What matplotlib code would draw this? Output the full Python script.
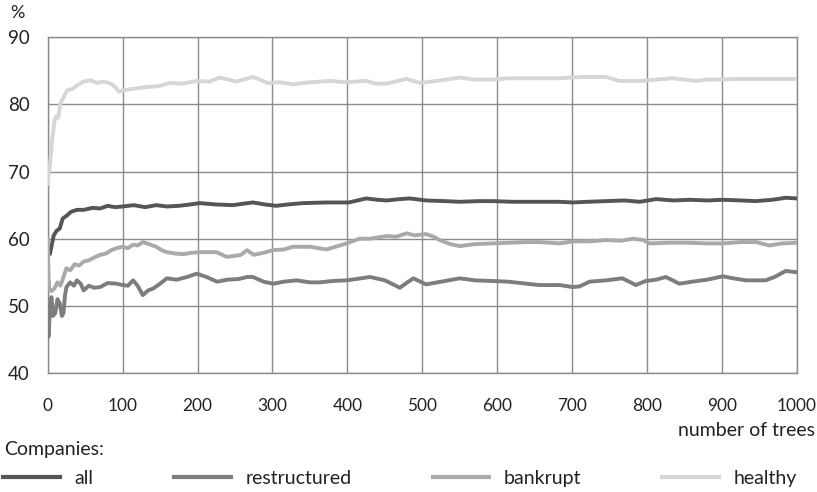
import matplotlib
matplotlib.use("Agg")
import matplotlib.pyplot as plt
from matplotlib.lines import Line2D

plt.rcParams["font.family"] = ["Lato", "DejaVu Sans"]

# --- data (accuracy in %, by number of trees) ---
t_all = [3, 5, 8, 12, 16, 20, 25, 31, 39, 48, 60, 70, 80, 90, 100, 115, 130,
         145, 159, 175, 190, 203, 225, 247, 260, 274, 290, 305, 320, 340, 372,
         402, 425, 440, 452, 470, 483, 505, 530, 550, 575, 594, 620, 656, 683,
         701, 720, 745, 770, 790, 812, 835, 857, 880, 901, 925, 945, 967, 985,
         1000]
all_pct = [57.8, 58.8, 60.5, 61.2, 61.5, 63.0, 63.4, 64.0, 64.3, 64.3, 64.6,
           64.5, 64.9, 64.7, 64.8, 65.0, 64.7, 65.0, 64.8, 64.9, 65.1, 65.3,
           65.1, 65.0, 65.2, 65.4, 65.1, 64.9, 65.1, 65.3, 65.4, 65.4, 66.0,
           65.8, 65.7, 65.9, 66.0, 65.7, 65.6, 65.5, 65.6, 65.6, 65.5, 65.5,
           65.5, 65.4, 65.5, 65.6, 65.7, 65.5, 65.9, 65.7, 65.8, 65.7, 65.8,
           65.7, 65.6, 65.8, 66.1, 66.0]

t_restr = [0, 1, 3, 5, 7, 10, 13, 16, 19, 21, 23, 25, 30, 35, 39, 44, 48, 55,
           62, 70, 80, 92, 100, 107, 114, 120, 127, 134, 141, 150, 159, 172,
           186, 199, 212, 226, 240, 255, 266, 274, 288, 301, 315, 332, 350,
           363, 380, 399, 412, 430, 450, 470, 480, 488, 505, 525, 550, 570,
           594, 615, 639, 656, 683, 701, 710, 723, 745, 767, 785, 798, 812,
           825, 843, 860, 880, 901, 915, 932, 958, 970, 985, 1000]
restr_pct = [50.0, 45.4, 49.5, 51.3, 48.5, 48.9, 51.0, 50.4, 48.5, 48.9, 51.5,
             52.8, 53.5, 53.0, 53.8, 53.3, 52.3, 53.0, 52.7, 52.8, 53.4, 53.3,
             53.1, 53.0, 53.8, 53.0, 51.6, 52.3, 52.6, 53.3, 54.1, 53.9, 54.3,
             54.8, 54.3, 53.6, 53.9, 54.0, 54.3, 54.3, 53.6, 53.3, 53.6, 53.8,
             53.5, 53.5, 53.7, 53.8, 54.0, 54.3, 53.8, 52.7, 53.5, 54.1, 53.2,
             53.6, 54.1, 53.8, 53.7, 53.6, 53.3, 53.1, 53.1, 52.8, 52.9, 53.6,
             53.8, 54.1, 53.1, 53.7, 53.9, 54.3, 53.3, 53.6, 53.9, 54.4, 54.1,
             53.8, 53.8, 54.3, 55.2, 55.0]

t_bankr = [0, 1, 2, 5, 9, 13, 17, 21, 25, 30, 36, 42, 48, 55, 62, 70, 78, 85,
           92, 100, 107, 114, 120, 127, 135, 145, 152, 159, 170, 181, 192, 203,
           212, 225, 239, 247, 258, 266, 275, 288, 301, 315, 327, 350, 372,
           399, 416, 430, 452, 465, 479, 490, 505, 515, 523, 537, 550, 570,
           594, 615, 639, 656, 683, 701, 723, 745, 765, 781, 795, 803, 830,
           857, 880, 901, 925, 945, 963, 980, 1000]
bankr_pct = [60.0, 55.0, 52.5, 52.2, 52.6, 53.5, 53.0, 54.3, 55.6, 55.3, 56.2,
             56.0, 56.6, 56.8, 57.2, 57.6, 57.8, 58.3, 58.6, 58.8, 58.6, 59.1,
             59.0, 59.5, 59.2, 58.8, 58.3, 58.0, 57.8, 57.7, 57.9, 58.0, 58.0,
             58.0, 57.3, 57.4, 57.6, 58.3, 57.6, 57.9, 58.3, 58.4, 58.8, 58.8,
             58.4, 59.3, 60.0, 60.0, 60.4, 60.3, 60.8, 60.5, 60.7, 60.3, 59.8,
             59.2, 58.9, 59.2, 59.3, 59.4, 59.5, 59.5, 59.3, 59.6, 59.6, 59.8,
             59.7, 60.0, 59.8, 59.3, 59.4, 59.4, 59.3, 59.3, 59.5, 59.5, 59.0,
             59.3, 59.4]

t_healthy = [0, 3, 6, 9, 11, 14, 17, 20, 26, 33, 40, 48, 57, 66, 75, 84, 90,
             95, 105, 119, 132, 147, 163, 180, 199, 215, 230, 252, 274, 294,
             310, 327, 350, 376, 398, 425, 438, 452, 479, 497, 505, 525, 550,
             570, 594, 615, 639, 656, 683, 714, 745, 763, 790, 812, 834, 850,
             865, 880, 896, 920, 950, 975, 1000]
healthy_pct = [68.2, 71.0, 74.7, 77.5, 78.2, 78.0, 80.2, 80.8, 82.1, 82.3,
               82.9, 83.4, 83.6, 83.2, 83.4, 83.1, 82.6, 81.9, 82.2, 82.4,
               82.6, 82.7, 83.2, 83.1, 83.5, 83.4, 84.0, 83.4, 84.1, 83.2,
               83.3, 83.0, 83.3, 83.5, 83.3, 83.5, 83.1, 83.1, 83.8, 83.2,
               83.3, 83.6, 84.0, 83.7, 83.7, 83.9, 83.9, 83.9, 83.9, 84.1,
               84.1, 83.5, 83.5, 83.7, 83.9, 83.7, 83.5, 83.7, 83.7, 83.8,
               83.8, 83.8, 83.8]

x_ticks = list(range(0, 1001, 100))
y_ticks = [40, 50, 60, 70, 80, 90]

series = [
    ("all", t_all, all_pct, "#555555"),
    ("restructured", t_restr, restr_pct, "#7d7d7f"),
    ("bankrupt", t_bankr, bankr_pct, "#a9a9ab"),
    ("healthy", t_healthy, healthy_pct, "#d6d6d6"),
]

W, H = 817, 492
fig = plt.figure(figsize=(W / 100, H / 100), dpi=100)
ax = fig.add_axes([47.7 / W, 1 - 373 / H, (797 - 47.7) / W, (373 - 37.3) / H])

GRID = "#8c8c8c"
for name, t, v, col in series:
    ax.plot(t, v, color=col, linewidth=2.8, solid_joinstyle="round", zorder=3)

ax.set_xlim(0, 1000)
ax.set_ylim(40, 90)
ax.set_xticks(x_ticks)
ax.set_yticks(y_ticks)
ax.grid(True, color=GRID, linewidth=1.0, zorder=0)
ax.set_axisbelow(True)
for sp in ax.spines.values():
    sp.set_color(GRID)
    sp.set_linewidth(1.0)
ax.tick_params(length=0, labelsize=13.5, colors="#222222")
ax.tick_params(axis="x", labelsize=12.4, pad=18)
ax.tick_params(axis="y", pad=13)

fig.text(10 / W, 1 - 12.5 / H, "%", fontsize=13, color="#222222",
         ha="left", va="center")
fig.text(815 / W, 1 - 430 / H, "number of trees", fontsize=14,
         color="#222222", ha="right", va="center")
fig.text(4 / W, 1 - 449 / H, "Companies:", fontsize=14, color="#222222",
         ha="left", va="center")

handles = [Line2D([], [], color=col, linewidth=3.0) for _, _, _, col in series]
labels = [name for name, _, _, _ in series]
fig.legend(handles, labels, loc="center left", ncol=4, mode="expand",
           bbox_to_anchor=(3.3 / W, 1 - 479 / H, (796.7 - 3.3) / W, 0.001),
           bbox_transform=fig.transFigure, frameon=False, fontsize=14,
           handlelength=2.9, handletextpad=0.75, borderpad=0,
           borderaxespad=0, labelcolor="#222222")

fig.savefig("out.png", dpi=100)
